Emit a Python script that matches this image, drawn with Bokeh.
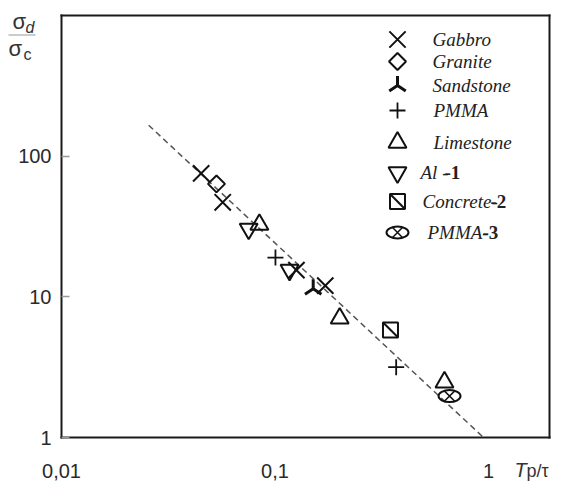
import math
from bokeh.plotting import figure
from bokeh.models import Label, BoxAnnotation, FixedTicker, CustomJSTickFormatter, LogAxis
from bokeh.embed import file_html
from bokeh.resources import INLINE

# ---------------- data ----------------
gabbro_x = [0.0451, 0.0569, 0.126, 0.172]
gabbro_y = [75.5, 47.0, 15.5, 12.0]
granite_x = [0.0532]
granite_y = [63.5]
sandstone_x = [0.151]
sandstone_y = [11.4]
pmma_x = [0.1005, 0.3695]
pmma_y = [19.0, 3.16]
limestone_x = [0.0845, 0.201, 0.622]
limestone_y = [32.6, 7.04, 2.47]
al_x = [0.0753, 0.117]
al_y = [30.4, 15.5]
concrete_x = [0.3475]
concrete_y = [5.82]
pmma3_x = [0.657]
pmma3_y = [1.97]
fit_x = [0.0256, 0.948]
fit_y = [166.0, 1.0]

x_ticks = [0.01, 0.1, 1]
x_tick_labels = ["0,01", "0,1", "1"]
y_ticks = [1, 10, 100]
y_tick_labels = ["1", "10", "100"]

legend_names = ["Gabbro", "Granite", "Sandstone", "PMMA",
                "Limestone", "Al -", "Concrete-", "PMMA-"]
legend_suffix = ["", "", "", "", "", "1", "2", "3"]

# ---------------- layout ----------------
W, H = 561, 483
BOX_X = (0.01, 1.931)      # data extent of the drawn plot box
BOX_Y = (1, 1000)
BL, BT, BR, BB = 61, 15, 549, 437   # plot box in canvas px

def ext(lo, hi, plo, phi, full):
    # log range covering the whole canvas so that [lo, hi] lands on [plo, phi] px
    a, b = math.log10(lo), math.log10(hi)
    per = (b - a) / (phi - plo)
    return 10 ** (a - plo * per), 10 ** (a + (full - plo) * per)

X_RANGE = ext(BOX_X[0], BOX_X[1], BL, BR, W)
Y_RANGE = ext(BOX_Y[0], BOX_Y[1], H - BB, H - BT, H)

def dx(px):
    a, b = math.log10(X_RANGE[0]), math.log10(X_RANGE[1])
    return 10 ** (a + px / W * (b - a))

def dy(py):
    a, b = math.log10(Y_RANGE[0]), math.log10(Y_RANGE[1])
    return 10 ** (a + (H - py) / H * (b - a))

p = figure(width=W, height=H, x_axis_type="log", y_axis_type="log",
           x_range=X_RANGE, y_range=Y_RANGE,
           output_backend="svg", toolbar_location=None,
           min_border_left=0, min_border_right=0,
           min_border_top=0, min_border_bottom=0)
p.title.visible = False
p.grid.visible = False
p.background_fill_color = "white"
p.border_fill_color = "white"
p.outline_line_color = None

INK = "#1a1a1a"
fmt_code = """
const i = tv.findIndex(t => Math.abs(Math.log10(t) - Math.log10(tick)) < 1e-6);
return i >= 0 ? tl[i] : "";
"""
xa = p.xaxis[0]
ya = p.yaxis[0]
xa.ticker = FixedTicker(ticks=x_ticks, minor_ticks=[])
xa.formatter = CustomJSTickFormatter(args=dict(tv=x_ticks, tl=x_tick_labels), code=fmt_code)
ya.ticker = FixedTicker(ticks=y_ticks, minor_ticks=[])
ya.formatter = CustomJSTickFormatter(args=dict(tv=y_ticks, tl=y_tick_labels), code=fmt_code)
xa.fixed_location = BOX_Y[0]
ya.fixed_location = BOX_X[0]
xa.bounds = BOX_X
ya.bounds = BOX_Y

for ax in (xa, ya):
    ax.axis_line_color = INK
    ax.axis_line_width = 2
    ax.axis_line_cap = "square"
    ax.major_label_text_font = "Liberation Sans"
    ax.major_label_text_font_size = "20px"
    ax.major_label_text_color = "#2a2a2a"
    ax.minor_tick_line_color = None
    ax.minor_tick_in = 0
    ax.minor_tick_out = 0
xa.major_tick_line_color = None
xa.major_tick_in = 0
xa.major_tick_out = 0
xa.major_label_standoff = 26
ya.major_tick_in = 8
ya.major_tick_out = 0
ya.major_tick_line_color = "#999999"
ya.major_tick_line_width = 1.5
ya.major_label_standoff = 10

# top and right edges of the box
top_ax = LogAxis(fixed_location=BOX_Y[1], bounds=BOX_X, ticker=FixedTicker(ticks=[], minor_ticks=[]),
                 axis_line_color=INK, axis_line_width=2, axis_line_cap="square",
                 major_tick_line_color=None, minor_tick_line_color=None,
                 major_label_text_font_size="0px")
right_ax = LogAxis(fixed_location=BOX_X[1], bounds=BOX_Y, ticker=FixedTicker(ticks=[], minor_ticks=[]),
                   axis_line_color=INK, axis_line_width=2, axis_line_cap="square",
                   major_tick_line_color=None, minor_tick_line_color=None,
                   major_label_text_font_size="0px")
p.add_layout(top_ax, "above")
p.add_layout(right_ax, "right")

# fit line
p.line(fit_x, fit_y, line_color="#555555", line_width=1.5, line_dash="6 4")

MK = dict(line_color="#111111", fill_color=None, line_width=2)

def draw(kind, xs, ys):
    if kind == "gabbro":
        p.scatter(xs, ys, marker="x", size=23, **MK)
    elif kind == "granite":
        p.scatter(xs, ys, marker="square", angle=math.pi / 4, size=12, **MK)
    elif kind == "sandstone":
        p.scatter(xs, ys, marker="y", angle=math.pi, size=19,
                  line_color="#111111", line_width=3)
    elif kind == "pmma":
        p.scatter(xs, ys, marker="cross", size=16, line_color="#111111", line_width=1.8)
    elif kind == "limestone":
        p.scatter(xs, ys, marker="triangle", size=18, **MK)
    elif kind == "al":
        p.scatter(xs, ys, marker="inverted_triangle", size=18, **MK)
    elif kind == "concrete":
        p.scatter(xs, ys, marker="square", size=15, **MK)
        p.scatter(xs, ys, marker="dash", angle=-math.pi / 4, size=21,
                  line_color="#111111", line_width=2)
    elif kind == "pmma3":
        p.ellipse(xs, ys, width=22, height=12, width_units="screen", height_units="screen",
                  fill_color=None, line_color="#111111", line_width=2)
        p.scatter(xs, ys, marker="x", size=14, line_color="#111111", line_width=1.5)

kinds = ["gabbro", "granite", "sandstone", "pmma", "limestone", "al", "concrete", "pmma3"]
series = [(gabbro_x, gabbro_y), (granite_x, granite_y), (sandstone_x, sandstone_y),
          (pmma_x, pmma_y), (limestone_x, limestone_y), (al_x, al_y),
          (concrete_x, concrete_y), (pmma3_x, pmma3_y)]
for k, (xs, ys) in zip(kinds, series):
    draw(k, xs, ys)

# ---------------- hand-made legend ----------------
def lab(text, ix, iy, size, style="normal", font="Liberation Sans", color="#333333"):
    p.add_layout(Label(x=ix, y=iy, x_units="canvas", y_units="canvas", text=text,
                       text_font=font, text_font_size=size, text_font_style=style,
                       text_color=color, text_baseline="middle", text_align="left"))

LEG_KEY_X = 397
LEG_ROWS = [39, 61, 85, 110, 142, 172, 201, 232]
LEG_TEXT_X = [432, 432, 432, 433, 433, 420, 422, 427]
LEG_SUFFIX_X = [0, 0, 0, 0, 0, 444, 490, 482]
for i, k in enumerate(kinds):
    draw(k, [dx(LEG_KEY_X)], [dy(LEG_ROWS[i])])
    lab(legend_names[i], LEG_TEXT_X[i], LEG_ROWS[i], "19px", style="italic",
        font="Liberation Serif", color="#222222")
    if legend_suffix[i]:
        lab("-" + legend_suffix[i], LEG_SUFFIX_X[i], LEG_ROWS[i], "19px", style="bold",
            font="Liberation Serif", color="#222222")

# ---------------- axis titles ----------------
lab("σ", 12, 21, "22px")
lab("d", 25, 27, "16px", style="italic")
lab("σ", 8, 48, "22px")
lab("c", 23, 54, "16px")
p.add_layout(BoxAnnotation(left=8, right=35, top=34, bottom=35,
                           left_units="canvas", right_units="canvas",
                           top_units="canvas", bottom_units="canvas",
                           fill_color="#999999", fill_alpha=1, line_color=None))
lab("T", 514, 469, "20px", style="italic")
lab("p/τ", 526, 470, "18px")

open("out.html", "w").write(file_html(p, INLINE))
